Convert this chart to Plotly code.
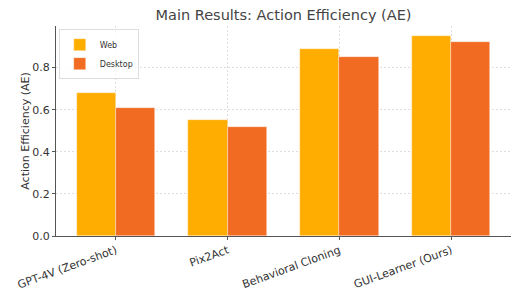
import plotly.graph_objects as go

methods = ["GPT-4V (Zero-shot)", "Pix2Act", "Behavioral Cloning", "GUI-Learner (Ours)"]
web = [0.68, 0.55, 0.89, 0.95]
desktop = [0.61, 0.52, 0.85, 0.92]
y_ticks = [0.0, 0.2, 0.4, 0.6, 0.8]

fig = go.Figure()
fig.add_trace(go.Bar(x=list(range(len(methods))), y=web, name="Web",
                     marker=dict(color="#FFAD00", line=dict(color="rgba(255,255,255,0.6)", width=0.6)),
                     width=0.35, offset=-0.35))
fig.add_trace(go.Bar(x=list(range(len(methods))), y=desktop, name="Desktop",
                     marker=dict(color="#F26B22", line=dict(color="rgba(255,255,255,0.6)", width=0.6)),
                     width=0.35, offset=0.0))

fig.update_layout(
    width=524, height=294,
    margin=dict(l=56, r=13, t=26, b=58),
    paper_bgcolor="white", plot_bgcolor="white",
    font=dict(family="DejaVu Sans", size=11, color="#333333"),
    title=dict(text="Main Results: Action Efficiency (AE)", x=0.5, xref="paper", xanchor="center",
               y=0.948, yref="container", yanchor="middle", font=dict(size=14.5, color="#444444")),
    bargap=0, barmode="overlay",
    showlegend=True,
    legend=dict(x=0.006, y=0.985, xanchor="left", yanchor="top",
                bgcolor="rgba(255,255,255,0.8)", bordercolor="#DDDDDD", borderwidth=1,
                font=dict(size=8, color="#333333"), itemwidth=30, tracegroupgap=0),
)
fig.update_xaxes(
    range=[-0.535, 3.535], tickmode="array", tickvals=list(range(len(methods))), ticktext=methods,
    tickangle=-20, showgrid=True, gridcolor="#DDDDDD", griddash="2px,2px", gridwidth=0.8,
    showline=True, linecolor="#555555", linewidth=1, ticks="outside", ticklen=3, tickcolor="#555555",
    tickfont=dict(size=11, color="#333333"), zeroline=False, automargin=False,
)
fig.update_yaxes(
    range=[0, 0.9975], tickmode="array", tickvals=y_ticks, ticktext=[f"{v:.1f}" for v in y_ticks],
    showgrid=True, gridcolor="#DDDDDD", griddash="2px,2px", gridwidth=0.8,
    showline=True, linecolor="#555555", linewidth=1, ticks="outside", ticklen=3, tickcolor="#555555",
    tickfont=dict(size=11, color="#333333"), zeroline=False, automargin=False,
    title=dict(text="Action Efficiency (AE)", font=dict(size=11, color="#333333"), standoff=0),
)

fig.write_html("out.html", config={"displayModeBar": False},
               post_script="document.body.style.margin='0';document.body.style.padding='0';document.body.style.overflow='hidden';")
